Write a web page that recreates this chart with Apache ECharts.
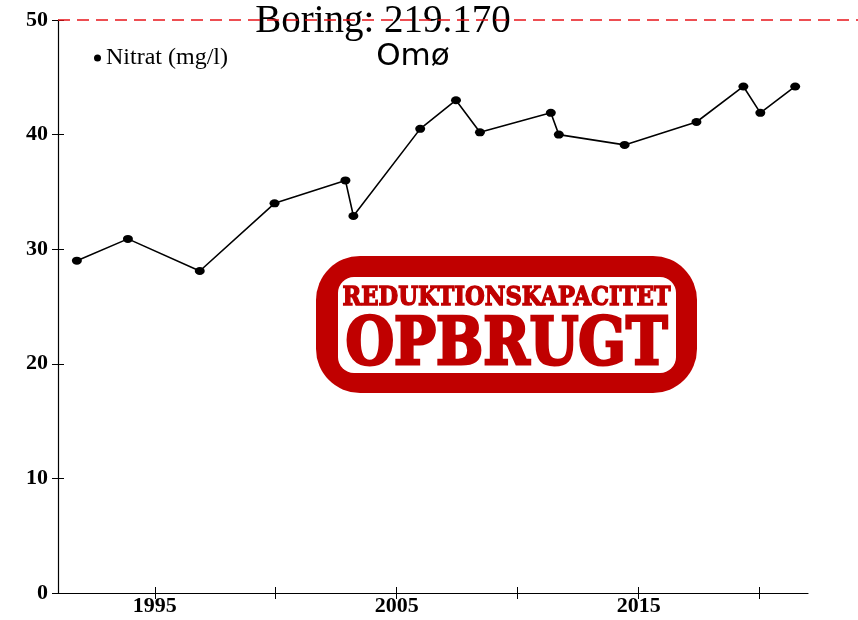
<!DOCTYPE html>
<html>
<head>
<meta charset="utf-8">
<script src="https://cdn.jsdelivr.net/npm/echarts@6/dist/echarts.min.js"></script>
<style>
  html, body { margin: 0; padding: 0; background: #fff; }
  #chart { width: 858px; height: 620px; }
</style>
</head>
<body>
<div id="chart"></div>
<script>
// nitrat målinger, boring 219.170 Omø
const years = [1991.78, 1993.89, 1996.86, 1999.95, 2002.88, 2003.21, 2005.97, 2007.45,
               2008.44, 2011.37, 2011.70, 2014.42, 2017.39, 2019.33, 2020.03, 2021.47];
const nitrat = [29.0, 30.9, 28.1, 34.0, 36.0, 32.9, 40.5, 43.0,
                40.2, 41.9, 40.0, 39.1, 41.1, 44.2, 41.9, 44.2];
const xTicks = [1995, 2000, 2005, 2010, 2015, 2020];
const xLabels = [1995, 2005, 2015];
const limit = 50;

const serif = '"Liberation Serif", "Times New Roman", serif';
const stencil = '"DejaVu Serif", serif';
const red = '#c00000';

let myChart = echarts.init(document.getElementById('chart'));

let axisLine = { show: true, lineStyle: { color: '#000', width: 1.2 } };
let tickStyle = { color: '#000', width: 1 };
let labelFont = { fontFamily: serif, fontSize: 22, fontWeight: 'bold', color: '#000' };

let option = {
    animation: false,
    grid: { left: 58, right: 50, top: 20, bottom: 27 },
    title: [
        {
            text: 'Boring: 219.170',
            left: 378, top: -3, textAlign: 'center',
            textStyle: { fontFamily: serif, fontSize: 39, fontWeight: 'normal', color: '#000' }
        },
        {
            text: 'Omø',
            left: 408, top: 36, textAlign: 'center',
            textStyle: { fontFamily: '"DejaVu Sans", sans-serif', fontSize: 31, fontWeight: 'normal', color: '#000' }
        }
    ],
    legend: {
        left: 89, top: 41,
        icon: 'circle', itemWidth: 7, itemHeight: 7, itemGap: 6,
        textStyle: { fontFamily: serif, fontSize: 24, color: '#000' },
        data: ['Nitrat (mg/l)']
    },
    xAxis: [
        {
            type: 'value', min: 1991, max: 2022,
            splitLine: { show: false },
            axisLine: axisLine,
            axisTick: { customValues: xTicks, length: 6, lineStyle: tickStyle },
            axisLabel: Object.assign({ customValues: xLabels, margin: 2, formatter: v => String(v) }, labelFont)
        },
        {
            type: 'value', min: 1991, max: 2022, position: 'bottom',
            splitLine: { show: false },
            axisLine: { show: false },
            axisTick: { customValues: xTicks, inside: true, length: 6, lineStyle: tickStyle },
            axisLabel: { show: false }
        }
    ],
    yAxis: [
        {
            type: 'value', min: 0, max: 50, interval: 10,
            splitLine: { show: false },
            axisLine: axisLine,
            axisTick: { length: 6, lineStyle: tickStyle },
            axisLabel: Object.assign({ margin: 10 }, labelFont)
        },
        {
            type: 'value', min: 0, max: 50, interval: 10, position: 'left',
            splitLine: { show: false },
            axisLine: { show: false },
            axisTick: { inside: true, length: 6, lineStyle: tickStyle },
            axisLabel: { show: false }
        }
    ],
    series: [
        {
            name: 'Nitrat (mg/l)',
            type: 'line',
            data: years.map((y, i) => [y, nitrat[i]]),
            symbol: 'circle', symbolSize: [10, 8],
            itemStyle: { color: '#000' },
            lineStyle: { color: '#000', width: 1.6 }
        }
    ]
};
myChart.setOption(option);

// tekstbredde til at strække stempelteksten ud
let ctx = document.createElement('canvas').getContext('2d');
function fitScale(txt, font, width) {
    ctx.font = font;
    return width / ctx.measureText(txt).width;
}

// rød stiplet grænselinje ved 50 mg/l, helt ud til kanten
let yLim = myChart.convertToPixel({ yAxisIndex: 0 }, limit);
let stamp = { left: 316, top: 256, w: 381, h: 137 };
let f1 = 'bold 26px ' + stencil;
let f2 = 'bold 65px ' + stencil;
myChart.setOption({
    graphic: [
        {
            type: 'line', z: 10,
            shape: { x1: 58, y1: yLim, x2: 858, y2: yLim },
            style: { stroke: '#e8141a', lineWidth: 1.5, lineDash: [12, 7] }
        },
        {
            type: 'group', left: stamp.left, top: stamp.top, z: 20,
            children: [
                { type: 'rect', shape: { x: 0, y: 0, width: stamp.w, height: stamp.h, r: 44 }, style: { fill: red } },
                { type: 'rect', shape: { x: 22, y: 21, width: stamp.w - 43, height: stamp.h - 41, r: 16 }, style: { fill: '#fff' } },
                {
                    type: 'text', x: stamp.w / 2, y: 55, scaleX: fitScale('REDUKTIONSKAPACITET', f1, 328),
                    style: { text: 'REDUKTIONSKAPACITET', fill: red, stroke: red, lineWidth: 1.4, font: f1, align: 'center', verticalAlign: 'bottom' }
                },
                {
                    type: 'text', x: stamp.w / 2, y: 124, scaleX: fitScale('OPBRUGT', f2, 322),
                    style: { text: 'OPBRUGT', fill: red, stroke: red, lineWidth: 3, font: f2, align: 'center', verticalAlign: 'bottom' }
                }
            ]
        }
    ]
});
</script>
</body>
</html>
